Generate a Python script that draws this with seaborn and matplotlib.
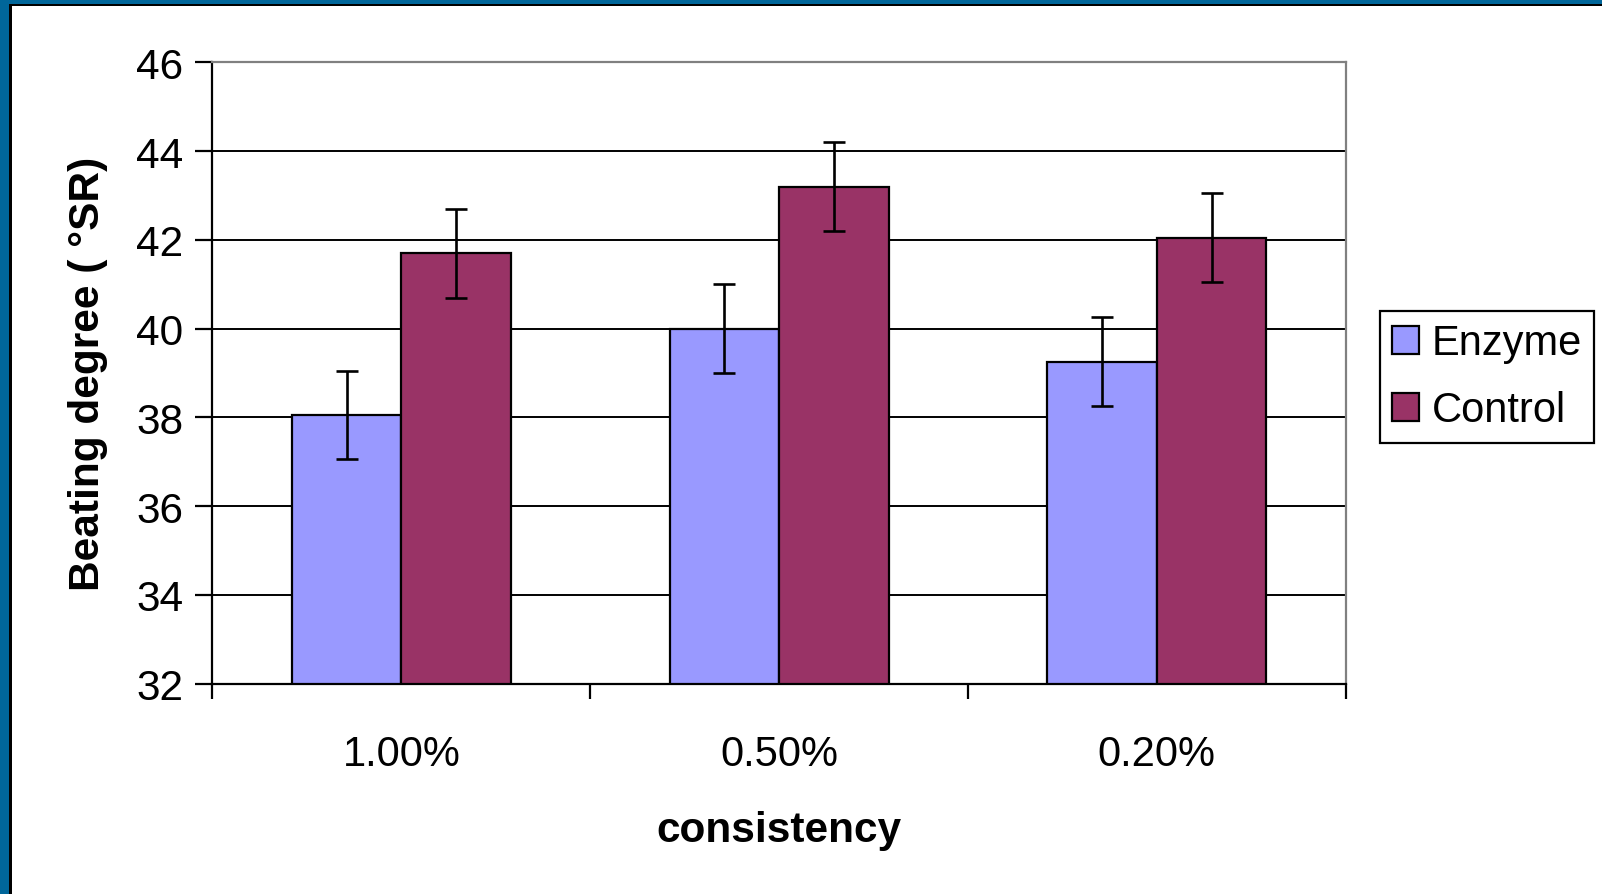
import matplotlib
matplotlib.use("Agg")
import matplotlib.pyplot as plt
from matplotlib.patches import Rectangle
from matplotlib.ticker import FixedLocator
import seaborn as sns
import pandas as pd

# ── Data ──────────────────────────────────────────────────────────────────
consistency = ["1.00%", "0.50%", "0.20%"]
treatments = ["Enzyme", "Control"]
enzyme = [38.05, 40.0, 39.25]
control = [41.7, 43.2, 42.05]
enzyme_err = [1.0, 1.0, 1.0]
control_err = [1.0, 1.0, 1.0]
y_ticks = [32, 34, 36, 38, 40, 42, 44, 46]

COLORS = {"Enzyme": "#9999FF", "Control": "#993366"}
FRAME_BLUE = "#00669A"

df = pd.DataFrame({
    "consistency": consistency * 2,
    "treatment": ["Enzyme"] * 3 + ["Control"] * 3,
    "value": enzyme + control,
})

sns.set_theme(style="white")
plt.rcParams["font.family"] = ["Liberation Sans", "DejaVu Sans"]
plt.rcParams.update({
    "text.color": "black",
    "axes.labelcolor": "black",
    "xtick.color": "black",
    "ytick.color": "black",
})

W, H = 1602, 895
fig = plt.figure(figsize=(W / 100, H / 100), dpi=100)
fig.patch.set_facecolor("white")

# axes placed to match the plot area of the reference (pixels)
left, right, top, bottom = 212.5, 1345.6, 63.3, 684.6
ax = fig.add_axes([left / W, 1 - bottom / H, (right - left) / W, (bottom - top) / H])

sns.barplot(
    data=df, x="consistency", y="value", hue="treatment",
    hue_order=treatments, palette=COLORS, saturation=1,
    width=0.58, edgecolor="black", linewidth=1.6,
    errorbar=None, ax=ax,
)

# error bars on the bar centres
for container, errs in zip(ax.containers, [enzyme_err, control_err]):
    xs = [b.get_x() + b.get_width() / 2 for b in container]
    ys = [b.get_height() for b in container]
    ax.errorbar(xs, ys, yerr=errs, fmt="none", ecolor="black",
                elinewidth=1.9, capsize=8, capthick=1.9, zorder=5)

ax.set_ylim(32, 46)
ax.set_xlim(-0.5, 2.5)
ax.set_yticks(y_ticks)
ax.yaxis.grid(True, color="black", linewidth=1.4)
ax.set_axisbelow(True)

# spines
for side in ["left", "bottom"]:
    ax.spines[side].set_color("black")
    ax.spines[side].set_linewidth(1.6)
for side in ["top", "right"]:
    ax.spines[side].set_color("#808080")
    ax.spines[side].set_linewidth(1.6)

# ticks: y out, x ticks at category boundaries
ax.tick_params(axis="y", direction="out", length=12, width=1.6,
               pad=9, labelsize=30.5, left=True)
ax.xaxis.set_minor_locator(FixedLocator([-0.5, 0.5, 1.5, 2.5]))
ax.tick_params(axis="x", which="minor", direction="out", length=11, width=1.6,
               bottom=True)
ax.tick_params(axis="x", which="major", length=0, pad=36, labelsize=30)

ax.set_xlabel("consistency", fontsize=30.5, fontweight="bold")
ax.set_ylabel("Beating degree ( °SR)", fontsize=30.5, fontweight="bold")
ax.xaxis.set_label_coords(0.5, -0.236)
ax.xaxis.label.set_verticalalignment("center")
ax.yaxis.set_label_coords(-0.110, 0.5)
ax.yaxis.label.set_verticalalignment("center")

handles, labels = ax.get_legend_handles_labels()
leg = ax.legend(
    handles, labels, loc="upper left", bbox_to_anchor=(1.030, 0.600),
    borderaxespad=0, fontsize=30, frameon=True, fancybox=False,
    framealpha=1, edgecolor="black", handlelength=0.65, handleheight=0.65,
    handletextpad=0.3, borderpad=0.3, labelspacing=0.65,
)
leg.get_frame().set_linewidth(1.6)

# blue slide frame along the top and left edges
fig.patches.extend([
    Rectangle((0, 1 - 5 / H), 1, 5 / H, transform=fig.transFigure,
              facecolor=FRAME_BLUE, edgecolor="none"),
    Rectangle((0, 1 - 7 / H), 1, 2 / H, transform=fig.transFigure,
              facecolor="black", edgecolor="none"),
    Rectangle((0, 0), 9 / W, 1, transform=fig.transFigure,
              facecolor=FRAME_BLUE, edgecolor="none"),
    Rectangle((9 / W, 0), 3 / W, 1 - 5 / H, transform=fig.transFigure,
              facecolor="black", edgecolor="none"),
])

fig.savefig("out.png", dpi=100)
plt.close(fig)
